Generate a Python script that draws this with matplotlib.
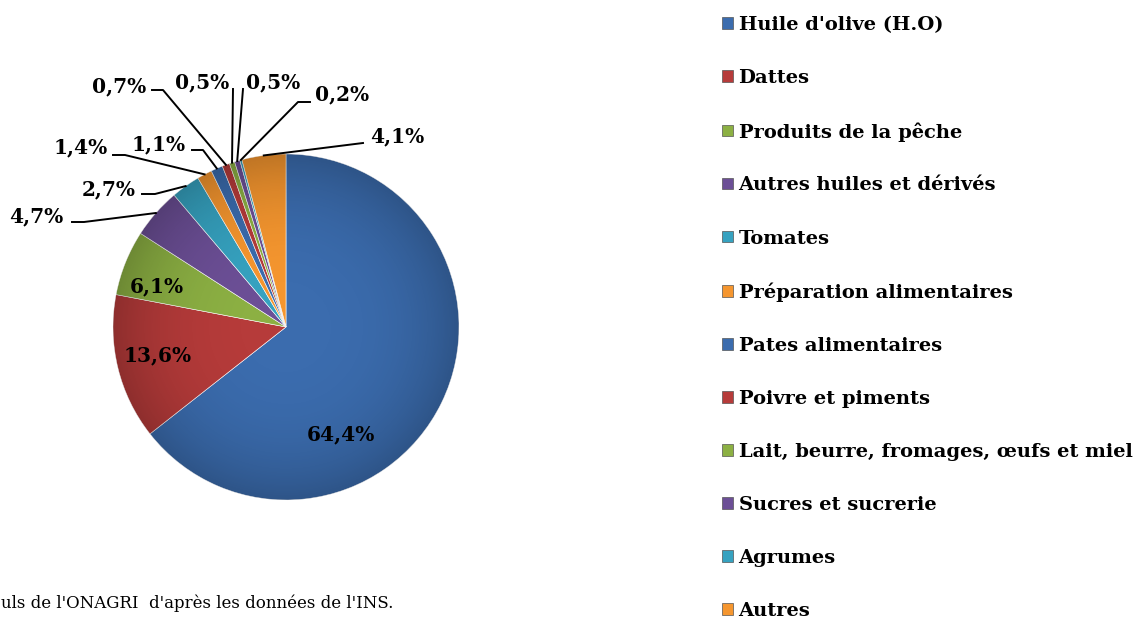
import numpy as np
import matplotlib.pyplot as plt
from matplotlib.patches import Circle, Patch

# données (part en %)
categories = ["Huile d'olive (H.O)", "Dattes", "Produits de la pêche",
              "Autres huiles et dérivés", "Tomates", "Préparation alimentaires",
              "Pates alimentaires", "Poivre et piments",
              "Lait, beurre, fromages, œufs et miel", "Sucres et sucrerie",
              "Agrumes", "Autres"]
parts = [64.4, 13.6, 6.1, 4.7, 2.7, 1.4, 1.1, 0.7, 0.5, 0.5, 0.2, 4.1]
# la note de source est coupée à gauche dans l'original
source = "uls de l'ONAGRI  d'après les données de l'INS."

couleurs = ['#3b6cae', '#b63b3a', '#8cb043', '#6c4f96', '#36a2c0', '#f5962f',
            '#3b6cae', '#b63b3a', '#8cb043', '#6c4f96', '#36a2c0', '#f5962f']

W, H = 1133, 628
fig = plt.figure(figsize=(W / 100, H / 100), dpi=100)
ax = fig.add_axes([0, 0, 1, 1])

cx, cy, R = 286, H - 327, 173
wedges, _ = ax.pie(parts, colors=couleurs, startangle=90, counterclock=False,
                   center=(cx, cy), radius=R,
                   wedgeprops=dict(edgecolor='#ffffff', linewidth=0.4))

# ombrage radial pour l'effet de relief
yy, xx = np.mgrid[-1:1:300j, -1:1:300j]
rr = np.sqrt(xx ** 2 + yy ** 2)
shade = np.zeros((300, 300, 4))
shade[..., 3] = np.clip(0.22 * rr ** 3, 0, 0.22)
im = ax.imshow(shade, extent=(cx - R, cx + R, cy - R, cy + R), zorder=3)
im.set_clip_path(Circle((cx, cy), R, transform=ax.transData))

ax.set_xlim(0, W)
ax.set_ylim(0, H)
ax.set_aspect('equal')
ax.axis('off')

fs = 14.5
fonte = 'DejaVu Serif'

# étiquettes à l'intérieur (position en pixels)
interieur = {0: (341, 434), 1: (158, 355), 2: (157, 286)}
for i, (px, py) in interieur.items():
    ax.text(px, H - py, f"{parts[i]:.1f}%".replace('.', ','), ha='center', va='center',
            fontsize=fs, fontweight='bold', family=fonte, zorder=5)

# étiquettes extérieures : centre du texte, début et coude du trait
exterieur = {
    3: ((36, 216), (72, 222), (84, 222)),
    4: ((109, 189), (142, 194), (155, 194)),
    5: ((81, 147), (113, 155), (125, 155)),
    6: ((159, 144), (192, 150), (203, 150)),
    7: ((119, 86), (152, 90), (163, 90)),
    8: ((202, 82), (233, 89), (233, 89)),
    9: ((273, 82), (243, 89), (243, 89)),
    10: ((342, 94), (310, 102), (298, 102)),
    11: ((397, 136), (363, 143), (363, 143)),
}
cumul = np.cumsum([0] + parts)
for i, ((tx, ty), (sx, sy), (ex, ey)) in exterieur.items():
    mid = (cumul[i] + cumul[i + 1]) / 2 / 100 * 360
    ang = np.deg2rad(90 - mid)
    wx, wy = cx + R * np.cos(ang), cy + R * np.sin(ang)
    ax.plot([sx, ex, wx], [H - sy, H - ey, wy], color='black', lw=1.4, zorder=4)
    ax.text(tx, H - ty, f"{parts[i]:.1f}%".replace('.', ','), ha='center', va='center',
            fontsize=fs, fontweight='bold', family=fonte, zorder=5)

# légende
handles = [Patch(facecolor=c, edgecolor='#555555', linewidth=0.5) for c in couleurs]
fig.legend(handles, categories, loc='upper left', bbox_to_anchor=(722 / W, 1 - 16 / H),
           frameon=False, prop=dict(family=fonte, weight='bold', size=14),
           handlelength=0.55, handleheight=0.55, handletextpad=0.3,
           labelspacing=1.80, borderpad=0, borderaxespad=0)

ax.text(1, H - 603, source, ha='left', va='center', fontsize=12, family=fonte)

fig.savefig('out.png', dpi=100)
